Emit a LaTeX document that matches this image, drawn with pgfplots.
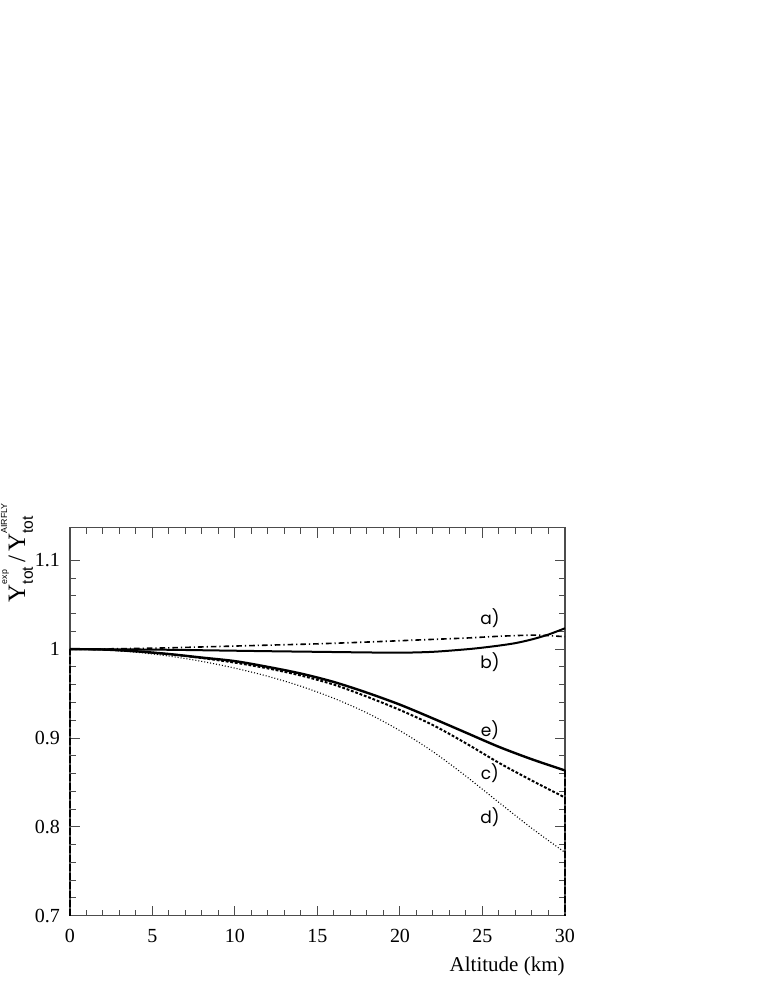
\documentclass[border=0pt]{standalone}
\usepackage{fontspec}
\setmainfont{Liberation Serif}
\newfontfamily\lsans{Liberation Sans}
\newfontfamily\geo{Poppins}
\usepackage{pgfplots}
\pgfplotsset{compat=1.18}
\pgfplotstableread{
x y
0 1.000
3 1.0005
6 1.0015
9 1.003
12 1.0045
15 1.006
18 1.008
20 1.0095
22 1.011
24 1.0125
26 1.0145
28 1.0158
29 1.0152
30 1.014
}\dataA
\pgfplotstableread{
x y
0 1.000
3 0.9998
6 0.9993
9 0.9985
12 0.9977
15 0.997
18 0.9963
20 0.996
22 0.997
24 0.9998
25 1.0017
26 1.004
27 1.0068
28 1.011
29 1.0165
30 1.0235
}\dataB
\pgfplotstableread{
x y
0 1.000
2 0.9996
4 0.9975
6 0.9944
8 0.990
10 0.9848
12 0.9783
14 0.9703
16 0.960
18 0.9465
20 0.9315
22 0.9145
24 0.894
26 0.872
28 0.852
30 0.833
}\dataC
\pgfplotstableread{
x y
0 1.000
2 0.9992
4 0.9966
6 0.9922
8 0.9862
10 0.9786
12 0.9694
14 0.9582
16 0.9446
18 0.9282
20 0.9082
22 0.8846
24 0.8570
26 0.8274
28 0.7982
30 0.7712
}\dataD
\pgfplotstableread{
x y
0 1.000
2 0.9996
4 0.9976
6 0.9945
8 0.9905
10 0.9865
12 0.980
14 0.9725
16 0.963
18 0.951
20 0.9375
22 0.922
24 0.906
26 0.890
28 0.876
30 0.8635
}\dataE
\begin{document}
\begin{tikzpicture}
\useasboundingbox (-35pt,-35.65pt) rectangle (346.5pt,457.85pt);
\begin{axis}[
  at={(0,0)}, anchor=south west,
  scale only axis, width=247.5pt, height=194pt,
  xmin=0, xmax=30, ymin=0.7, ymax=1.1367,
  xtick={0,5,10,15,20,25,30},
  ytick={0.7,0.8,0.9,1,1.1},
  minor x tick num=4, minor y tick num=4,
  major tick length=5pt, minor tick length=3pt,
  tick align=inside,
  axis line style={black!70, line width=0.6pt},
  every tick/.style={black!70, line width=0.5pt},
  /pgf/number format/assume math mode=true,
  ticklabel style={font=\fontsize{10}{12}\selectfont},
  xticklabel style={yshift=-3.5pt, text height=6.6pt, text depth=0pt},
  yticklabel style={xshift=-1.5pt},
  clip=false,
]
\addplot[black, line width=0.8pt, dash pattern=on 2.8pt off 1.5pt on 0.6pt off 1.5pt, smooth] table[x=x,y=y] {\dataA};
\addplot[black, line width=1pt, smooth] table[x=x,y=y] {\dataB};
\addplot[black, line width=1pt, dash pattern=on 1.4pt off 0.9pt, smooth] table[x=x,y=y] {\dataC};
\addplot[black, line width=0.55pt, dash pattern=on 0.5pt off 1pt, smooth] table[x=x,y=y] {\dataD};
\addplot[black, line width=1.2pt, smooth] table[x=x,y=y] {\dataE};
\node[font=\geo\fontsize{8.5}{10}\selectfont] at (axis cs:25.45,1.0347) {a)};
\node[font=\geo\fontsize{8.5}{10}\selectfont] at (axis cs:25.45,0.9859) {b)};
\node[font=\geo\fontsize{8.5}{10}\selectfont] at (axis cs:25.45,0.909) {e)};
\node[font=\geo\fontsize{8.5}{10}\selectfont] at (axis cs:25.45,0.8603) {c)};
\node[font=\geo\fontsize{8.5}{10}\selectfont] at (axis cs:25.45,0.8114) {d)};
\node[anchor=base east, inner sep=0pt, font=\fontsize{10.5}{12}\selectfont] at ([yshift=-28pt]rel axis cs:1,0) {Altitude (km)};
\node[rotate=90, anchor=east, inner sep=0pt, font=\fontsize{12.5}{14}\selectfont] at ([xshift=-26.5pt,yshift=12.35pt]rel axis cs:0,1)
 {Y\rlap{\raisebox{9pt}{\fontsize{4.4}{5}\selectfont\lsans exp}}\raisebox{-3.8pt}{\fontsize{7.8}{8}\selectfont\lsans tot}\,/\,Y\rlap{\raisebox{-3.8pt}{\fontsize{7.8}{8}\selectfont\lsans tot}}\raisebox{9pt}{\fontsize{4.4}{5}\selectfont\lsans AIRFLY}};
\end{axis}
\begin{axis}[
  at={(0,0)}, anchor=south west,
  scale only axis, width=247.5pt, height=194pt,
  xmin=0, xmax=30, ymin=0.7, ymax=1.1367,
  hide axis, clip=false,
]
\addplot[black, line width=0.9pt, dash pattern=on 3.5pt off 1pt] coordinates {(0,0.7) (0,1)};
\addplot[black, line width=0.9pt, dash pattern=on 3.5pt off 1pt] coordinates {(30,0.8635) (30,0.7)};
\end{axis}
\end{tikzpicture}
\end{document}
